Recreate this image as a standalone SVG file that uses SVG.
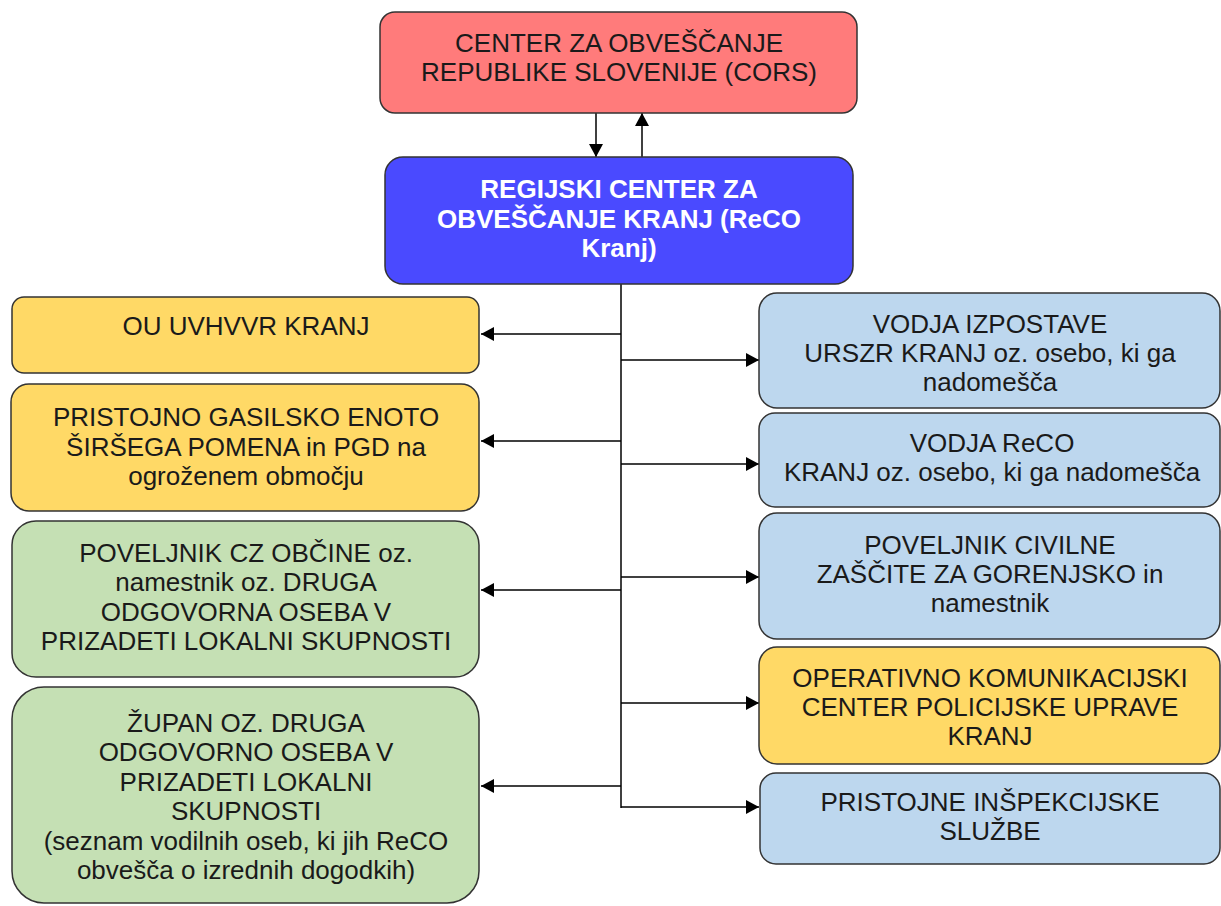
<svg xmlns="http://www.w3.org/2000/svg" width="1221" height="906" viewBox="0 0 1221 906">
<style>
.box{stroke:#333;stroke-width:1.5}
.red{fill:#ff7b7b}
.blue{fill:#4a4aff}
.yel{fill:#ffd966}
.grn{fill:#c5e0b4}
.lb{fill:#bdd7ee}
text{font-family:"Liberation Sans",Arial,sans-serif;font-size:26px;fill:#1a1a1a;text-anchor:middle}
.w{fill:#fff;font-weight:bold}
.c{stroke:#000;stroke-width:1.5;fill:none}
</style>
<defs>
<marker id="ah" viewBox="0 0 13 14" refX="13" refY="7" markerWidth="13" markerHeight="14" markerUnits="userSpaceOnUse" orient="auto">
<path d="M0,0 L13,7 L0,14 Z" fill="#000"/>
</marker>
</defs>
<rect width="1221" height="906" fill="#fff"/>
<g id="connectors">
<line class="c" x1="596" y1="113" x2="596" y2="157" marker-end="url(#ah)"/>
<line class="c" x1="642" y1="157" x2="642" y2="113" marker-end="url(#ah)"/>
<line class="c" x1="621" y1="284" x2="621" y2="808"/>
<line class="c" x1="621" y1="334" x2="481" y2="334" marker-end="url(#ah)"/>
<line class="c" x1="621" y1="441" x2="481" y2="441" marker-end="url(#ah)"/>
<line class="c" x1="621" y1="590" x2="481" y2="590" marker-end="url(#ah)"/>
<line class="c" x1="621" y1="786" x2="481" y2="786" marker-end="url(#ah)"/>
<line class="c" x1="621" y1="360" x2="759" y2="360" marker-end="url(#ah)"/>
<line class="c" x1="621" y1="464" x2="759" y2="464" marker-end="url(#ah)"/>
<line class="c" x1="621" y1="577" x2="759" y2="577" marker-end="url(#ah)"/>
<line class="c" x1="621" y1="703" x2="759" y2="703" marker-end="url(#ah)"/>
<line class="c" x1="621" y1="807" x2="759" y2="807" marker-end="url(#ah)"/>
</g>
<g id="cors">
<rect class="box red" x="380" y="12" width="477" height="101" rx="15"/>
<text x="619" y="52">CENTER ZA OBVEŠČANJE</text>
<text x="619" y="81">REPUBLIKE SLOVENIJE (CORS)</text>
</g>
<g id="reco">
<rect class="box blue" x="385" y="157" width="468" height="127" rx="18"/>
<text class="w" x="619" y="198">REGIJSKI CENTER ZA</text>
<text class="w" x="619" y="228">OBVEŠČANJE KRANJ (ReCO</text>
<text class="w" x="619" y="257">Kranj)</text>
</g>
<g id="ou">
<rect class="box yel" x="12" y="297" width="467" height="76" rx="12"/>
<text x="246" y="335">OU UVHVVR KRANJ</text>
</g>
<g id="gasilci">
<rect class="box yel" x="11" y="384" width="468" height="127" rx="18"/>
<text x="246" y="426">PRISTOJNO GASILSKO ENOTO</text>
<text x="246" y="456">ŠIRŠEGA POMENA in PGD na</text>
<text x="246" y="485">ogroženem območju</text>
</g>
<g id="poveljnik-cz">
<rect class="box grn" x="12" y="521" width="467" height="156" rx="24"/>
<text x="246" y="562">POVELJNIK CZ OBČINE oz.</text>
<text x="246" y="591">namestnik oz. DRUGA</text>
<text x="246" y="621">ODGOVORNA OSEBA V</text>
<text x="246" y="650">PRIZADETI LOKALNI SKUPNOSTI</text>
</g>
<g id="zupan">
<rect class="box grn" x="12" y="687" width="467" height="216" rx="32"/>
<text x="246" y="732">ŽUPAN OZ. DRUGA</text>
<text x="246" y="761">ODGOVORNO OSEBA V</text>
<text x="246" y="791">PRIZADETI LOKALNI</text>
<text x="246" y="820">SKUPNOSTI</text>
<text x="246" y="850">(seznam vodilnih oseb, ki jih ReCO</text>
<text x="246" y="879">obvešča o izrednih dogodkih)</text>
</g>
<g id="vodja-izpostave">
<rect class="box lb" x="759" y="293" width="461" height="115" rx="18"/>
<text x="990" y="333">VODJA IZPOSTAVE</text>
<text x="990" y="362">URSZR KRANJ oz. osebo, ki ga</text>
<text x="990" y="391">nadomešča</text>
</g>
<g id="vodja-reco">
<rect class="box lb" x="759" y="413" width="461" height="94" rx="16"/>
<text x="992" y="452">VODJA ReCO</text>
<text x="992" y="481">KRANJ oz. osebo, ki ga nadomešča</text>
</g>
<g id="poveljnik-cz-gorenjska">
<rect class="box lb" x="759" y="513" width="461" height="126" rx="18"/>
<text x="990" y="554">POVELJNIK CIVILNE</text>
<text x="990" y="583">ZAŠČITE ZA GORENJSKO in</text>
<text x="990" y="612">namestnik</text>
</g>
<g id="okc">
<rect class="box yel" x="759" y="647" width="461" height="117" rx="18"/>
<text x="990" y="687">OPERATIVNO KOMUNIKACIJSKI</text>
<text x="990" y="716">CENTER POLICIJSKE UPRAVE</text>
<text x="990" y="745">KRANJ</text>
</g>
<g id="inspekcije">
<rect class="box lb" x="760" y="773" width="460" height="91" rx="16"/>
<text x="990" y="811">PRISTOJNE INŠPEKCIJSKE</text>
<text x="990" y="840">SLUŽBE</text>
</g>
</svg>
